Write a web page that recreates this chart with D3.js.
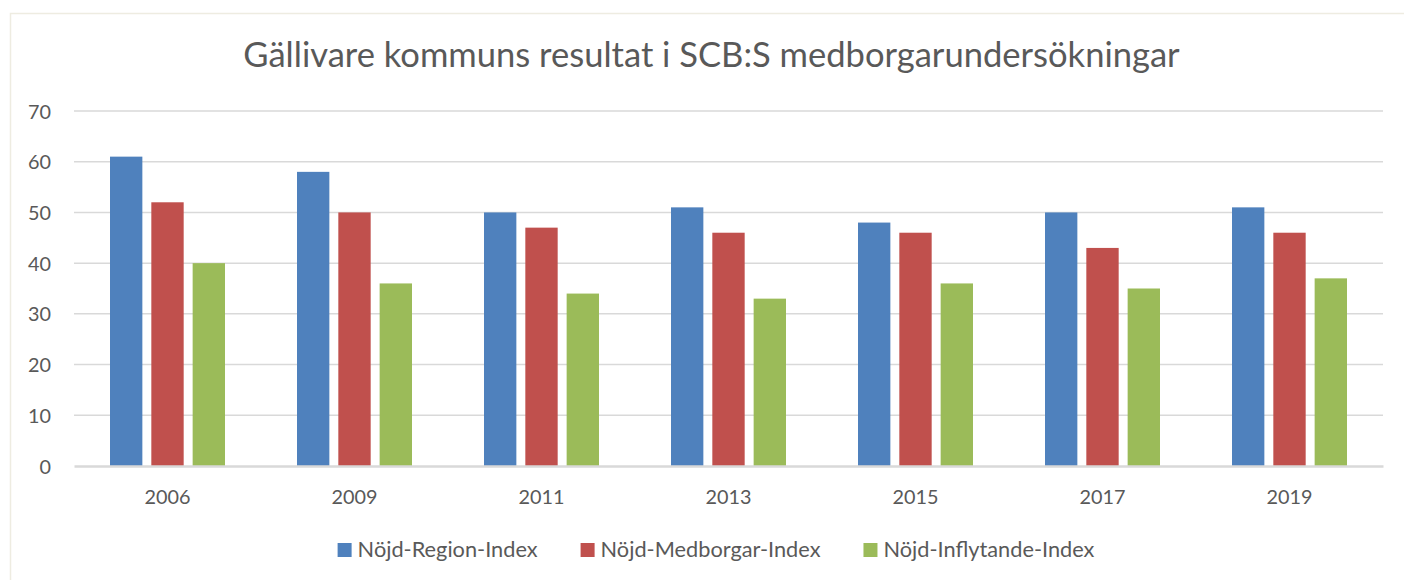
<!DOCTYPE html>
<html>
<head>
<meta charset="utf-8">
<script src="https://cdn.jsdelivr.net/npm/d3@7"></script>
<style>
  html, body { margin: 0; padding: 0; background: #ffffff; }
  svg { display: block; }
  text { font-family: Lato, "Open Sans", sans-serif; fill: #595959; }
</style>
</head>
<body>
<svg id="chart" width="1404" height="580"></svg>
<script>
const title = "Gällivare kommuns resultat i SCB:S medborgarundersökningar";
const years = ["2006", "2009", "2011", "2013", "2015", "2017", "2019"];
const seriesNames = ["Nöjd-Region-Index", "Nöjd-Medborgar-Index", "Nöjd-Inflytande-Index"];
const regionIndex = [61, 58, 50, 51, 48, 50, 51];
const medborgarIndex = [52, 50, 47, 46, 46, 43, 46];
const inflytandeIndex = [40, 36, 34, 33, 36, 35, 37];
const yTicks = [0, 10, 20, 30, 40, 50, 60, 70];
const colors = ["#4f81bd", "#c0504d", "#9bbb59"];

const seriesValues = [regionIndex, medborgarIndex, inflytandeIndex];

const svg = d3.select("#chart");

// measure helper for font sizing
function fitSize(str, base, targetW) {
  const tmp = svg.append("text").attr("font-size", base).text(str);
  const w = tmp.node().getComputedTextLength();
  tmp.remove();
  return base * targetW / w;
}

// chart border
svg.append("rect")
  .attr("x", 10.5).attr("y", 13.5)
  .attr("width", 1420).attr("height", 600)
  .attr("fill", "#ffffff")
  .attr("stroke", "#eeece1")
  .attr("stroke-width", 1.5);

const plot = { left: 74, right: 1383, top: 111, bottom: 466 };

const y = d3.scaleLinear().domain([0, 70]).range([plot.bottom, plot.top]);
const x0 = d3.scaleBand().domain(years).range([plot.left, plot.right]).paddingInner(0).paddingOuter(0);
const groupW = 115;
const x1 = d3.scaleBand().domain(d3.range(3)).range([-groupW / 2, groupW / 2]).paddingInner(0.217);

const axisFs = fitSize("2006", 18, 46);

// gridlines
svg.append("g")
  .selectAll("line")
  .data(yTicks.filter(t => t !== 0))
  .join("line")
  .attr("x1", plot.left).attr("x2", plot.right)
  .attr("y1", d => y(d)).attr("y2", d => y(d))
  .attr("stroke", "#d9d9d9")
  .attr("stroke-width", 1.5);

// y axis labels
const yAxis = d3.axisLeft(y).tickValues(yTicks).tickSize(0).tickPadding(0);
const gy = svg.append("g").attr("transform", `translate(51,0)`).call(yAxis);
gy.select(".domain").remove();
gy.selectAll("text")
  .attr("font-size", axisFs)
  .attr("font-family", "Lato, sans-serif")
  .attr("fill", "#595959")
  .attr("dy", "0.36em");

// bars
const data = [];
years.forEach((yr, i) => {
  seriesValues.forEach((vals, s) => data.push({ year: yr, s, v: vals[i] }));
});
svg.append("g")
  .selectAll("rect")
  .data(data)
  .join("rect")
  .attr("x", d => x0(d.year) + x0.bandwidth() / 2 + x1(d.s))
  .attr("width", x1.bandwidth())
  .attr("y", d => y(d.v))
  .attr("height", d => y(0) - y(d.v))
  .attr("fill", d => colors[d.s]);

// x axis baseline
const xAxis = d3.axisBottom(x0).tickSize(0).tickPadding(0);
const gx = svg.append("g").attr("transform", `translate(0,${plot.bottom})`).call(xAxis);
gx.select(".domain")
  .attr("stroke", "#d9d9d9")
  .attr("stroke-width", 2.5);
gx.selectAll("text")
  .attr("font-size", axisFs)
  .attr("font-family", "Lato, sans-serif")
  .attr("fill", "#595959")
  .attr("dy", null)
  .attr("y", 38);

// title
const t = svg.append("text")
  .attr("x", 711.5).attr("y", 67)
  .attr("text-anchor", "middle")
  .attr("font-size", fitSize(title, 30, 937))
  .text(title);

// legend
const legend = svg.append("g");
const items = legend.selectAll("g").data(seriesNames).join("g");
items.append("rect")
  .attr("width", 14).attr("height", 14)
  .attr("y", 543)
  .attr("fill", (d, i) => colors[i]);
items.append("text")
  .attr("y", 557)
  .attr("font-size", fitSize(seriesNames[0], 18, 180))
  .text(d => d);
let cx = 0;
const gapItem = 43;
items.each(function () {
  const g = d3.select(this);
  const len = g.select("text").node().getComputedTextLength();
  g.select("rect").attr("x", cx);
  g.select("text").attr("x", cx + 20);
  cx += 20 + len + gapItem;
});
const totalW = cx - gapItem;
legend.attr("transform", `translate(${716 - totalW / 2},0)`);
</script>
</body>
</html>
